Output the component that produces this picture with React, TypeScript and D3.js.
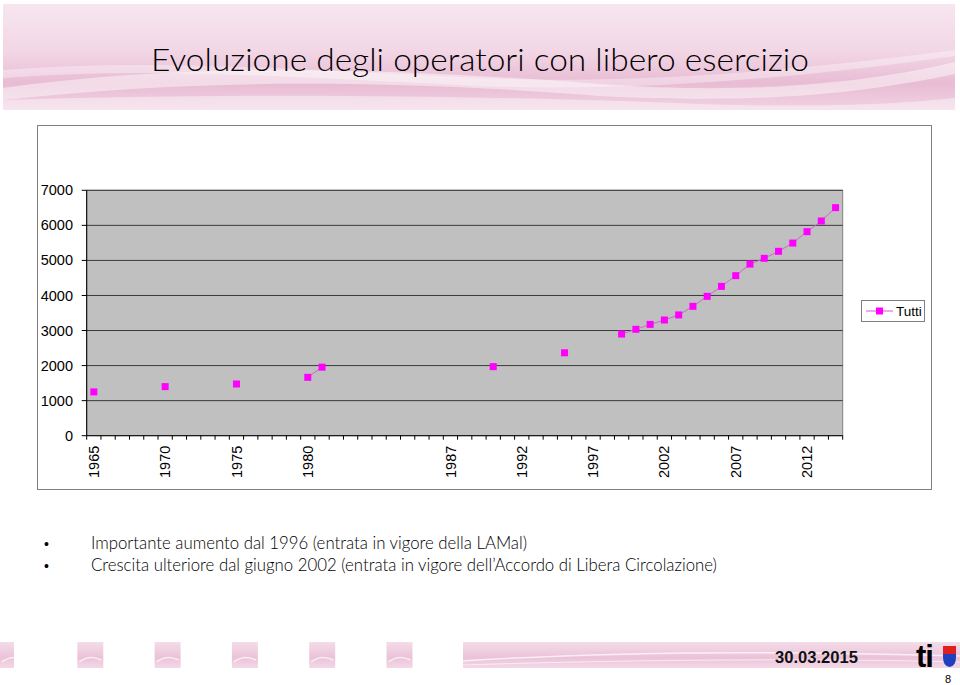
import React from "react";
import * as d3 from "d3";

const categories: string[] = [
  "1965","1966","1967","1968","1969","1970","1971","1972","1973","1974",
  "1975","1976","1977","1978","1979","1980","1981","","","",
  "","","","","","1987","1988","1989","1990","1991",
  "1992","1993","1994","1995","1996","1997","1998","1999","2000","2001",
  "2002","2003","2004","2005","2006","2007","2008","2009","2010","2011",
  "2012","2013","2014",
];

const tutti: (number | null)[] = [
  1250, null, null, null, null, 1400, null, null, null, null,
  1475, null, null, null, null, 1665, 1955, null, null, null,
  null, null, null, null, null, null, null, null, 1970, null,
  null, null, null, 2365, null, null, null, 2900, 3035, 3175,
  3300, 3445, 3690, 3975, 4260, 4565, 4895, 5060, 5260, 5495,
  5820, 6125, 6505,
];

const yTicks = [0, 1000, 2000, 3000, 4000, 5000, 6000, 7000];
const seriesName = "Tutti";
const title = "Evoluzione degli operatori con libero esercizio";
const bullets = [
  "Importante aumento dal 1996 (entrata in vigore della LAMal)",
  "Crescita ulteriore dal giugno 2002 (entrata in vigore dell\u2019Accordo di Libera Circolazione)",
];
const dateLabel = "30.03.2015";
const pageNumber = "8";

export default function App() {
  const W = 960, H = 685;
  const left = 86.7, right = 842.7, top = 190.3, bottom = 435.7;
  const idx = categories.map((_, i) => i);
  const x = d3.scaleBand<number>().domain(idx).range([left, right]).paddingInner(0).paddingOuter(0);
  const y = d3.scaleLinear().domain([0, 7000]).range([bottom, top]);
  const cx = (i: number) => (x(i) as number) + x.bandwidth() / 2;

  const line = d3
    .line<number | null>()
    .defined((d) => d != null)
    .x((_, i) => cx(i))
    .y((d) => y(d as number));

  const pts = tutti
    .map((v, i) => ({ v, i }))
    .filter((d) => d.v != null) as { v: number; i: number }[];

  const boundaries = d3.range(categories.length + 1).map((k) => left + k * x.bandwidth());
  const font = "'Liberation Sans', Arial, sans-serif";
  const gill = "Lato, 'Open Sans', sans-serif";
  const mk = 7;

  const footerSquares = [0, 1, 2, 3, 4, 5];

  return (
    <svg width={W} height={H} viewBox={`0 0 ${W} ${H}`} style={{ position: "absolute", left: 0, top: 0, background: "#fff" }}>
      <defs>
        <linearGradient id="hdr" x1="0" y1="0" x2="0" y2="1">
          <stop offset="0" stopColor="#f7e6ef" />
          <stop offset="0.45" stopColor="#f2d6e5" />
          <stop offset="0.75" stopColor="#e8bcd4" />
          <stop offset="1" stopColor="#f1d3e3" />
        </linearGradient>
        <linearGradient id="ftr" x1="0" y1="0" x2="0" y2="1">
          <stop offset="0" stopColor="#f4dce9" />
          <stop offset="0.6" stopColor="#ebc3d9" />
          <stop offset="1" stopColor="#f3d8e7" />
        </linearGradient>
      </defs>

      {/* Header */}
      <rect x={3} y={4} width={952} height={106} fill="url(#hdr)" />
      <path d="M3,88 C200,60 420,70 600,84 C760,96 880,80 955,62 L955,74 C860,94 760,104 600,96 C420,82 220,76 3,100 Z" fill="#ffffff" opacity={0.45} />
      <path d="M3,70 C150,58 300,70 480,78 C640,85 800,70 955,50 L955,56 C800,78 640,92 480,86 C300,78 150,66 3,78 Z" fill="#ffffff" opacity={0.35} />
      <path d="M3,100 C250,92 500,96 700,104 C820,108 900,104 955,98 L955,110 L3,110 Z" fill="#ffffff" opacity={0.4} />
      <text x={480} y={71} textAnchor="middle" fontFamily={gill} fontWeight={300} fontSize={32} fill="#000" textLength={658} lengthAdjust="spacingAndGlyphs">
        {title}
      </text>

      {/* Chart frame */}
      <rect x={37.5} y={125.5} width={894} height={364} fill="#fff" stroke="#808080" strokeWidth={1} />

      {/* Plot area */}
      <rect x={left} y={top} width={right - left} height={bottom - top} fill="#c0c0c0" stroke="#808080" strokeWidth={1} />
      {yTicks.slice(1).map((t) => (
        <line key={t} x1={left} x2={right} y1={y(t)} y2={y(t)} stroke="#3a3a3a" strokeWidth={1} />
      ))}

      {/* Y axis */}
      <line x1={left} x2={left} y1={top} y2={bottom} stroke="#000" strokeWidth={1} />
      {yTicks.map((t) => (
        <g key={t}>
          <line x1={left - 5} x2={left} y1={y(t)} y2={y(t)} stroke="#000" strokeWidth={1} />
          <text x={73} y={y(t)} dy="0.35em" textAnchor="end" fontFamily={font} fontSize={14.5} fill="#000">
            {t}
          </text>
        </g>
      ))}

      {/* X axis */}
      <line x1={left} x2={right} y1={bottom} y2={bottom} stroke="#000" strokeWidth={1} />
      {boundaries.map((b, k) => (
        <line key={k} x1={b} x2={b} y1={bottom} y2={bottom + 4} stroke="#000" strokeWidth={1} />
      ))}
      {categories.map((c, i) =>
        i % 5 === 0 && c !== "" ? (
          <text
            key={i}
            transform={`translate(${cx(i)},${bottom + 10}) rotate(-90)`}
            textAnchor="end"
            dy="0.35em"
            fontFamily={font}
            fontSize={14.5}
            fill="#000"
          >
            {c}
          </text>
        ) : null
      )}

      {/* Series */}
      <path d={line(tutti) || ""} fill="none" stroke="#cc66cc" strokeWidth={1} />
      {pts.map((p) => (
        <rect key={p.i} x={cx(p.i) - mk / 2} y={y(p.v) - mk / 2} width={mk} height={mk} fill="#ff00ff" />
      ))}

      {/* Legend */}
      <rect x={861.5} y={300.5} width={63} height={21} fill="#fff" stroke="#808080" strokeWidth={1} />
      <line x1={866} x2={893} y1={311} y2={311} stroke="#e070e0" strokeWidth={1.2} />
      <rect x={879.5 - 3.5} y={311 - 3.5} width={7} height={7} fill="#ff00ff" />
      <text x={896} y={311} dy="0.35em" fontFamily={font} fontSize={13.5} fill="#000">
        {seriesName}
      </text>

      {/* Bullets */}
      {bullets.map((b, i) => (
        <g key={i}>
          <text x={44} y={549 + i * 22} fontFamily={font} fontSize={14} fill="#000">•</text>
          <text x={91} y={549 + i * 22} fontFamily={gill} fontWeight={300} fontSize={16.8} fill="#000">
            {b}
          </text>
        </g>
      ))}

      {/* Footer */}
      {footerSquares.map((k) => (
        <g key={k}>
          <rect x={k * 77.3} y={642} width={k === 0 ? 14 : 26} height={26} fill="url(#ftr)" />
          <path d={`M${k * 77.3 + 2},${662} q10,-8 22,-2`} stroke="#ffffff" strokeWidth={1.5} fill="none" opacity={0.7} />
        </g>
      ))}
      <rect x={463} y={642} width={497} height={26} fill="url(#ftr)" />
      <path d="M463,661 C600,652 760,650 960,656" stroke="#ffffff" strokeWidth={1.5} fill="none" opacity={0.7} />
      <path d="M463,665 C620,660 800,658 960,662" stroke="#ffffff" strokeWidth={1} fill="none" opacity={0.6} />
      <text x={775} y={663} fontFamily={font} fontWeight={700} fontSize={16} fill="#111" textLength={83} lengthAdjust="spacingAndGlyphs">
        {dateLabel}
      </text>
      <text x={916} y={667} fontFamily={font} fontWeight={700} fontSize={31} fill="#000" letterSpacing={-1}>
        ti
      </text>
      <path d="M943,646 h13 v11 q0,9 -6.5,10 q-6.5,-1 -6.5,-10 Z" fill="#1f3fbf" />
      <path d="M943,646 h13 v8 h-13 Z" fill="#e02020" />
      <text x={945} y={683} fontFamily={font} fontSize={11} fill="#000">
        {pageNumber}
      </text>
    </svg>
  );
}
